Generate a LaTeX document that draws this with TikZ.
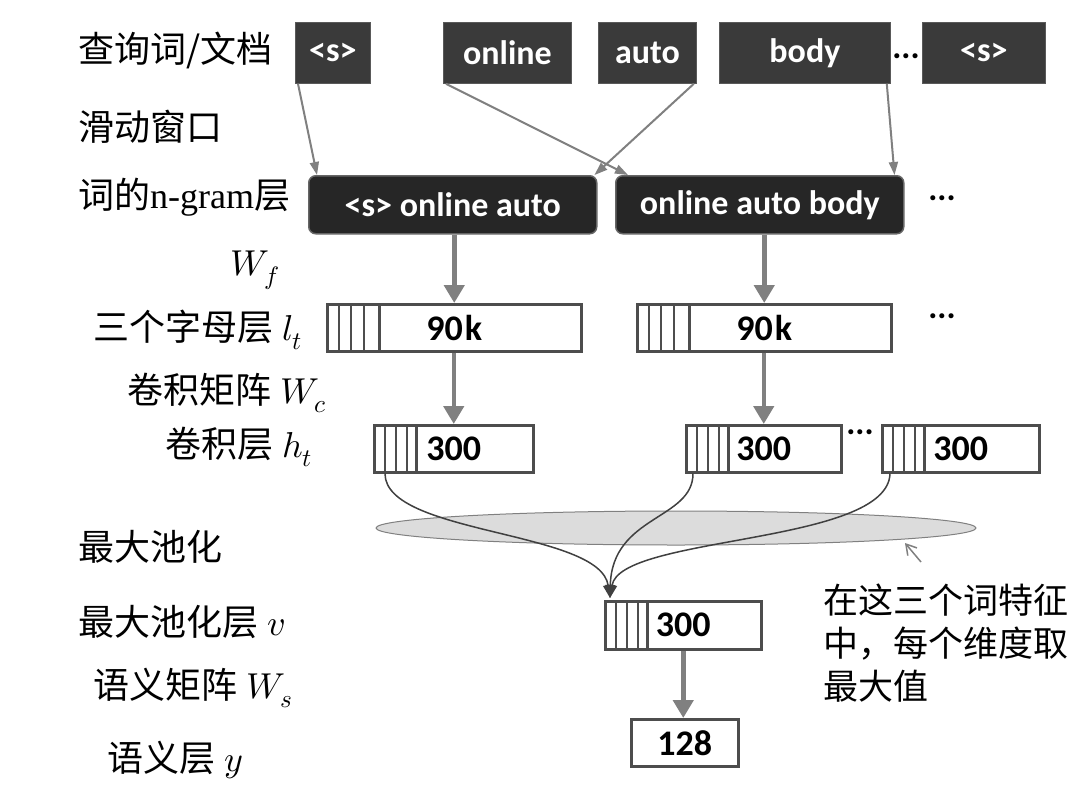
\documentclass[tikz,border=0pt]{standalone}
\usepackage{fontspec}
\usepackage{unicode-math}
\setmainfont{Liberation Serif}
\newfontfamily\cjk{Noto Sans CJK SC}
\newfontfamily\boxfont{Carlito}
\usetikzlibrary{shapes.geometric,arrows.meta,calc}
\definecolor{tokfill}{HTML}{3A3A3A}
\definecolor{gramfill}{HTML}{262626}
\definecolor{arrowgray}{HTML}{808080}
\definecolor{boxline}{HTML}{4D4D4D}
\definecolor{curvecol}{HTML}{404040}
\definecolor{poolfill}{HTML}{DCDCDC}
\tikzset{
  tok/.style={fill=tokfill, draw=gray!70!black, line width=0.8pt, text=white,
    font=\boxfont\bfseries\fontsize{34}{40}\selectfont, minimum height=61pt, inner sep=0pt, anchor=north west},
  gram/.style={fill=gramfill, draw=gray!80!black, rounded corners=7pt, line width=1.5pt, text=white,
    font=\boxfont\bfseries\fontsize{34}{40}\selectfont, minimum height=58pt, inner sep=0pt, anchor=north west},
  vec/.style={draw=boxline, line width=2.5pt, fill=white, inner sep=0pt, anchor=north west,
    font=\boxfont\bfseries\fontsize{36}{42}\selectfont, minimum height=47pt},
  stripes/.style 2 args={path picture={
    \foreach \o in {#1}{\draw[line width=1.8pt, boxline]
      ($(path picture bounding box.south west)+(\o,0)$) -- ($(path picture bounding box.north west)+(\o,0)$);}
    \draw[line width=2.5pt, boxline]
      ($(path picture bounding box.south west)+(#2,0)$) -- ($(path picture bounding box.north west)+(#2,0)$);}},
  dots/.style={font=\boxfont\bfseries\fontsize{34}{40}\selectfont, inner sep=0pt},
  lab/.style={anchor=west, inner sep=0pt, font=\fontsize{36}{42}\selectfont},
  tokarrow/.style={draw=arrowgray, line width=2pt, -{Triangle[length=13pt,width=9pt]}},
  flow/.style={draw=arrowgray, line width=4.5pt, -{Triangle[length=18pt,width=20pt]}},
  curve/.style={draw=curvecol, line width=1.5pt, -{Triangle[length=13pt,width=10pt]}},
}
\begin{document}
\begin{tikzpicture}[x=1pt,y=-1pt]
\useasboundingbox[fill=white] (0,0) rectangle (1080,785);

% left labels
\node[lab] (L1) at (78,50) {\cjk 查询词/文档};
\node[lab] (L2) at (78,127) {\cjk 滑动窗口};
\node[lab] (L3) at (78,197) {{\cjk 词的}n-gram{\cjk 层}};
\node[lab] (L4) at (230,270) {$W_f$};
\node[lab] (L5) at (93,330) {{\cjk 三个字母层} $l_t$};
\node[lab] (L6) at (127,393) {{\cjk 卷积矩阵} $W_c$};
\node[lab] (L7) at (165,447) {{\cjk 卷积层} $h_t$};
\node[lab] (L8) at (78,547) {\cjk 最大池化};
\node[lab] (L9) at (78,622) {{\cjk 最大池化层} $v$};
\node[lab] (L10) at (93,688) {{\cjk 语义矩阵} $W_s$};
\node[lab] (L11) at (107,760) {{\cjk 语义层} $y$};

% tokens
\node[tok, minimum width=75pt] (t1) at (295,22) {<s>};
\node[tok, minimum width=128pt] (t2) at (443,22) {online};
\node[tok, minimum width=98pt] (t3) at (598,22) {auto};
\node[tok, minimum width=171pt] (t4) at (719,22) {body};
\node[dots] (d1) at (906,56) {...};
\node[tok, minimum width=123pt] (t5) at (922,22) {<s>};

% n-grams
\node[gram, minimum width=288pt] (g1) at (308,175) {<s> online auto};
\node[gram, minimum width=288pt] (g2) at (615,175) {online auto body};
\node[dots] (d2) at (942,198) {...};

% letter-trigram layer
\node[vec, minimum width=254pt, stripes={12,24,37}{52}] (l1) at (326,303) {90\kern2pt k};
\node[vec, minimum width=254pt, stripes={12,24,37}{52}] (l2) at (636,303) {90\kern2pt k};
\node[dots] (d3) at (942,316) {...};

% convolution layer
\node[vec, minimum width=159pt, stripes={11,22,33}{42}] (h1) at (373,424) {300};
\node[vec, minimum width=155pt, stripes={11,22,33}{42}] (h2) at (685,424) {300};
\node[vec, minimum width=157pt, stripes={11,22,33}{42}] (h3) at (881,424) {300};
\node[dots] (d4) at (860,432) {...};

% pooling ellipse
\node[ellipse, draw=gray, fill=poolfill, line width=1pt, minimum width=600pt, minimum height=34pt, inner sep=0pt] (pool) at (676,528) {};

% max pooling layer and semantic layer
\node[vec, minimum width=156pt, minimum height=48pt, stripes={11,22,33}{42}] (v) at (604,600) {300};
\node[vec, minimum width=107pt] (y) at (630,718) {128};

% annotation
\node[anchor=north west, inner sep=0pt, align=left, font=\cjk\fontsize{35}{43}\selectfont] (note) at (823,584)
  {在这三个词特征\\中，每个维度取\\最大值};
\coordinate (pt) at (921,562);
\coordinate (pe) at (905,543);
\draw[draw=gray, line width=1.5pt, -{Straight Barb[length=10pt,width=12pt]}] (pt) -- (pe);

% token arrows
\draw[tokarrow] ($(t1.south west)+(3,0)$) -- ($(g1.north west)+(9,0)$);
\draw[tokarrow] ($(t2.south west)+(3,0)$) -- ($(g2.north west)+(13,0)$);
\draw[tokarrow] ($(t3.south east)+(-3,0)$) -- ($(g1.north east)+(-3,0)$);
\draw[tokarrow] ($(t4.south east)+(-4,0)$) -- ($(g2.north east)+(-10,0)$);

% flow arrows
\draw[flow] (g1.south -| l1.north) -- (l1.north);
\draw[flow] (l1.south -| h1.north) -- (h1.north);
\draw[flow] (g2.south -| l2.north) -- (l2.north);
\draw[flow] (l2.south -| h2.north) -- (h2.north);
\draw[flow] (v.south) -- (v.south |- y.north);

% pooling curves
\coordinate (vin) at ($(v.north west)+(6,-2)$);
\draw[curve] ($(h1.south west)+(12,0)$) .. controls (385,535) and (600,530) .. (vin);
\draw[curve] ($(h2.south west)+(8,0)$) .. controls (693,520) and (612,515) .. (vin);
\draw[curve] ($(h3.south west)+(9,0)$) .. controls (888,545) and (620,535) .. (vin);
\end{tikzpicture}
\end{document}
